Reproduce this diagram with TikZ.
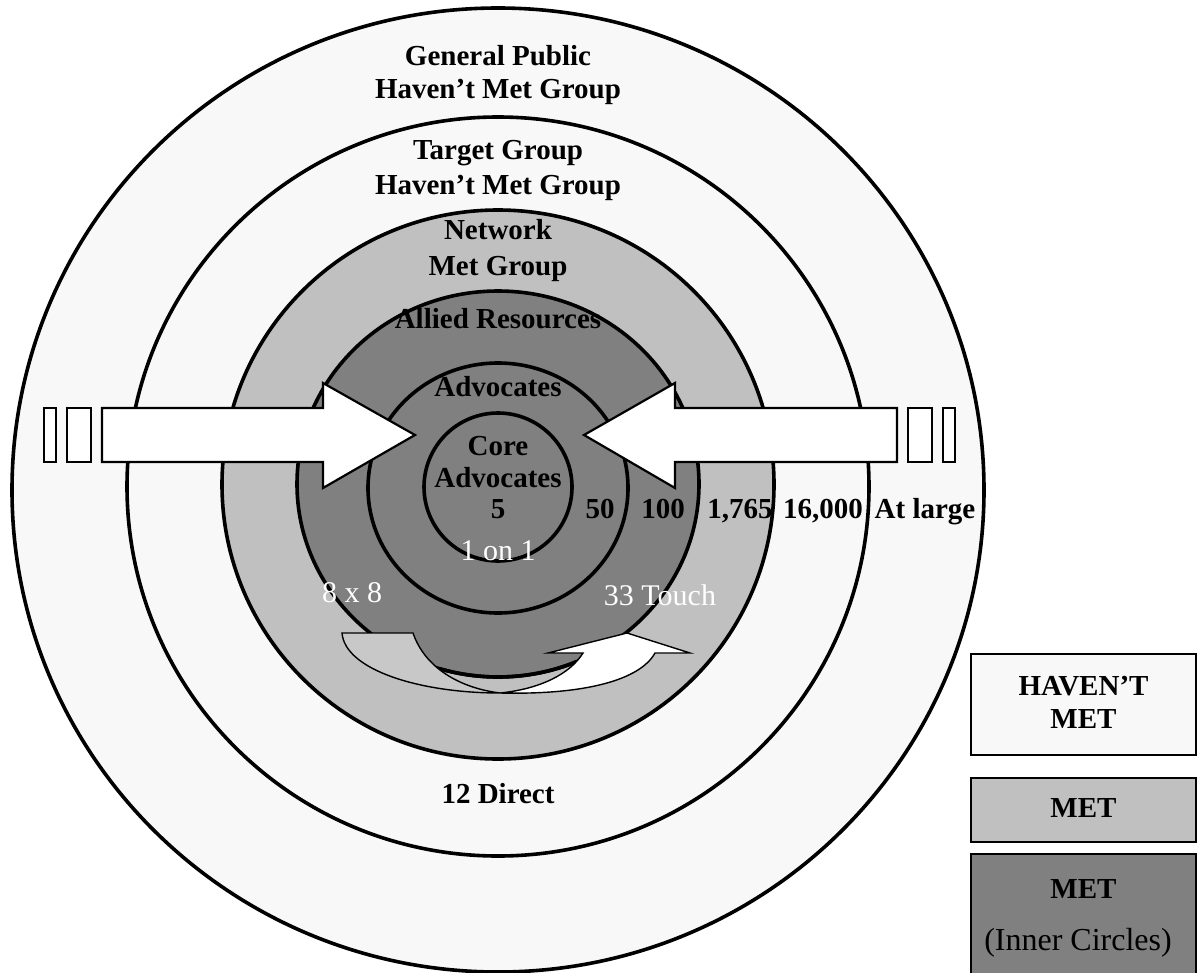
\documentclass[tikz,border=0pt]{standalone}
\usepackage{fontspec}
\setmainfont{Liberation Serif}
\definecolor{cA}{HTML}{F8F8F8}
\definecolor{cB}{HTML}{C0C0C0}
\definecolor{cC}{HTML}{808080}
\definecolor{cBand}{HTML}{C8C8C8}
\begin{document}
\begin{tikzpicture}[x=1pt,y=-1pt,
  ring/.style={draw=black,line width=3.6pt},
  bararrow/.style={draw=black,line width=2.2pt,fill=white,line join=miter},
  bandshape/.style={draw=black,line width=1.4pt,line join=miter},
  lbl/.style={font=\bfseries\fontsize{29}{34}\selectfont,inner sep=0pt,anchor=base},
  wlbl/.style={font=\fontsize{30}{34}\selectfont,text=white,inner sep=0pt,anchor=base},
  rlbl/.style={font=\fontsize{32}{36}\selectfont,inner sep=0pt,anchor=base},
  legendbox/.style={draw=black,line width=2.2pt,minimum width=225pt,inner sep=0pt}]
\useasboundingbox (0,0) rectangle (1199,972);
\fill[white] (0,0) rectangle (1199,972);
% rings
\draw[ring,fill=cA] (498,490) ellipse [x radius=486pt,y radius=482pt];
\draw[ring,fill=cA] (498,486.5) ellipse [x radius=371pt,y radius=369.5pt];
\draw[ring,fill=cB] (498,484.5) ellipse [x radius=276pt,y radius=274.5pt];
\draw[ring,fill=cC] (498,484) ellipse [x radius=201pt,y radius=193pt];
\draw[ring] (498,488) ellipse [x radius=130pt,y radius=125pt];
\draw[ring] (498,487) ellipse [x radius=74pt,y radius=74pt];
% striped arrows
\draw[bararrow] (44,408) rectangle (56,462);
\draw[bararrow] (67,408) rectangle (91,462);
\draw[bararrow] (102,408) -- (323,408) -- (323,383) -- (415,435) -- (323,488) -- (323,462) -- (102,462) -- cycle;
\draw[bararrow] (943,408) rectangle (955,462);
\draw[bararrow] (908,408) rectangle (932,462);
\draw[bararrow] (897,408) -- (675,408) -- (675,383) -- (584,435) -- (675,488) -- (675,462) -- (897,462) -- cycle;
% curved up arrow (back part)
\draw[bandshape,fill=cBand] (342,633) -- (413,633)
  .. controls (425,668) and (460,688) .. (500,693)
  .. controls (420,693) and (345,670) .. (342,633) -- cycle;
% allied ring bottom stays visible over the band
\begin{scope}
\clip (440,660) rectangle (600,700);
\draw[ring] (498,484) ellipse [x radius=201pt,y radius=193pt];
\end{scope}
% curved up arrow (front part)
\draw[bandshape,fill=white] (500,693)
  .. controls (585,695) and (640,680) .. (655,653)
  -- (690,653) -- (627,633) -- (548,653) -- (583,653)
  .. controls (570,674) and (540,689) .. (500,693) -- cycle;
% labels
\node[lbl] (gp1) at (498,65) {General Public};
\node[lbl] (gp2) at (498,98) {Haven’t Met Group};
\node[lbl] (tg1) at (498,159) {Target Group};
\node[lbl] (tg2) at (498,194) {Haven’t Met Group};
\node[lbl] (nw1) at (498,239) {Network};
\node[lbl] (nw2) at (498,275) {Met Group};
\node[lbl] (ar) at (498,328) {Allied Resources};
\node[lbl] (adv) at (498,396) {Advocates};
\node[lbl] (core1) at (498,455) {Core};
\node[lbl] (core2) at (498,487) {Advocates};
\node[lbl] (n5) at (498,518) {5};
\node[lbl] (n50) at (600,518) {50};
\node[lbl] (n100) at (663,518) {100};
\node[lbl] (n1765) at (740,518) {1,765};
\node[lbl] (n16000) at (823,518) {16,000};
\node[lbl] (atl) at (925,518) {At large};
\node[wlbl] (oneon) at (498,560) {1 on 1};
\node[wlbl] (eight) at (352,602) {8 x 8};
\node[wlbl] (touch) at (660,605) {33 Touch};
\node[lbl] (direct) at (498,803) {12 Direct};
% legend
\node[legendbox,fill=cA,minimum height=101pt] (lg1) at (1083.5,704.5) {};
\node[legendbox,fill=cB,minimum height=64pt] (lg2) at (1083.5,810) {};
\node[legendbox,fill=cC,minimum height=126pt] (lg3) at (1083.5,917) {};
\node[lbl] (lt1) at (1083.5,695) {HAVEN’T};
\node[lbl] (lt2) at (1083.5,728) {MET};
\node[lbl] (lt3) at (1083.5,817) {MET};
\node[lbl] (lt4) at (1083.5,898) {MET};
\node[rlbl] (lt5) at (1078,950) {(Inner Circles)};
\end{tikzpicture}
\end{document}
